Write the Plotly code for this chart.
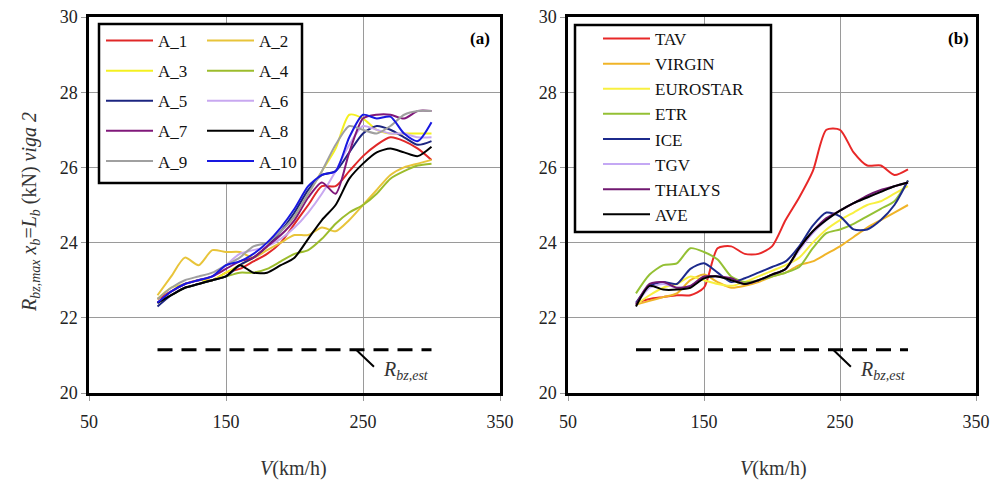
import plotly.graph_objects as go

# ---------------- data ----------------
V = [100, 110, 120, 130, 140, 150, 160, 170, 180, 190, 200,
     210, 220, 230, 240, 250, 260, 270, 280, 290, 300]

A_1 = [22.5, 22.7, 22.9, 23.0, 23.0, 23.2, 23.3, 23.5, 23.7, 24.0, 24.5, 25.0, 25.5, 25.5, 25.9, 26.3, 26.6, 26.8, 26.7, 26.5, 26.2]
A_2 = [22.6, 23.1, 23.6, 23.4, 23.8, 23.75, 23.75, 23.6, 23.8, 24.0, 24.2, 24.2, 24.4, 24.3, 24.6, 25.0, 25.4, 25.8, 26.0, 26.1, 26.2]
A_3 = [22.5, 22.8, 22.9, 23.0, 23.0, 23.2, 23.4, 23.6, 23.9, 24.3, 24.7, 25.3, 25.9, 26.5, 27.4, 27.3, 27.0, 26.9, 26.9, 26.9, 26.9]
A_4 = [22.4, 22.6, 22.8, 22.9, 23.0, 23.1, 23.2, 23.2, 23.3, 23.5, 23.7, 23.8, 24.1, 24.5, 24.8, 25.0, 25.3, 25.7, 25.9, 26.05, 26.1]
A_5 = [22.3, 22.6, 22.8, 22.9, 23.0, 23.1, 23.4, 23.6, 23.9, 24.3, 24.8, 25.4, 25.8, 25.9, 26.4, 26.9, 27.1, 27.0, 26.8, 26.6, 26.7]
A_6 = [22.4, 22.7, 22.9, 23.0, 23.1, 23.4, 23.7, 23.8, 23.9, 24.1, 24.4, 24.8, 25.3, 25.9, 26.6, 27.1, 27.0, 26.9, 26.9, 26.8, 26.8]
A_7 = [22.4, 22.7, 22.9, 23.0, 23.1, 23.3, 23.5, 23.6, 23.9, 24.2, 24.6, 25.2, 25.6, 25.3, 26.4, 27.3, 27.4, 27.4, 27.3, 27.5, 27.5]
A_8 = [22.4, 22.6, 22.8, 22.9, 23.0, 23.1, 23.4, 23.2, 23.2, 23.4, 23.6, 24.1, 24.6, 25.0, 25.7, 26.1, 26.4, 26.5, 26.4, 26.3, 26.55]
A_9 = [22.5, 22.8, 23.0, 23.1, 23.2, 23.4, 23.6, 23.9, 24.0, 24.3, 24.7, 25.3, 25.9, 26.6, 27.1, 27.0, 26.9, 27.1, 27.4, 27.5, 27.5]
A_10 = [22.4, 22.7, 22.9, 23.0, 23.1, 23.4, 23.5, 23.7, 24.0, 24.4, 24.9, 25.5, 25.8, 25.9, 26.8, 27.4, 27.3, 27.35, 26.9, 26.7, 27.2]

TAV = [22.4, 22.5, 22.55, 22.6, 22.6, 22.8, 23.85, 23.9, 23.7, 23.7, 23.9, 24.6, 25.2, 25.9, 27.0, 27.0, 26.4, 26.05, 26.05, 25.8, 25.95]
VIRGIN = [22.35, 22.45, 22.55, 22.65, 23.0, 23.15, 22.95, 22.8, 22.85, 22.95, 23.1, 23.2, 23.4, 23.5, 23.7, 23.9, 24.15, 24.4, 24.6, 24.8, 25.0]
EUROSTAR = [22.35, 22.6, 22.8, 22.9, 23.1, 23.0, 22.9, 22.85, 22.95, 23.1, 23.25, 23.4, 23.6, 24.0, 24.35, 24.6, 24.8, 25.0, 25.1, 25.3, 25.5]
ETR = [22.65, 23.15, 23.4, 23.45, 23.85, 23.75, 23.55, 23.1, 22.95, 23.0, 23.1, 23.2, 23.35, 23.85, 24.25, 24.35, 24.5, 24.7, 24.9, 25.1, 25.65]
ICE = [22.4, 22.85, 22.95, 22.9, 23.3, 23.45, 23.2, 22.95, 23.05, 23.2, 23.35, 23.5, 23.9, 24.45, 24.8, 24.7, 24.35, 24.35, 24.6, 25.0, 25.65]
TGV = [22.35, 22.8, 22.9, 22.8, 22.85, 23.05, 23.1, 23.0, 22.9, 23.0, 23.15, 23.3, 23.8, 24.25, 24.6, 24.85, 25.05, 25.2, 25.35, 25.5, 25.6]
THALYS = [22.35, 22.9, 22.95, 22.8, 22.85, 23.1, 23.1, 23.05, 22.9, 23.0, 23.15, 23.3, 23.85, 24.3, 24.65, 24.85, 25.05, 25.25, 25.4, 25.5, 25.6]
AVE = [22.3, 22.85, 22.75, 22.75, 22.8, 23.05, 23.1, 23.0, 22.9, 23.0, 23.15, 23.3, 23.85, 24.3, 24.6, 24.85, 25.05, 25.2, 25.35, 25.5, 25.6]

R_EST = 21.15
EST_V = [100, 300]
LEADER_V = [245, 258]
LEADER_Y = [21.15, 20.7]

X_TICKS = [50, 150, 250, 350]
Y_TICKS = [20, 22, 24, 26, 28, 30]

# ---------------- styles ----------------
FONT = '"Liberation Serif", "Times New Roman", Times, serif'
OFF = 8                     # page body margin
W, H = 998 - OFF, 486 - OFF


def px(x):
    return (x - OFF) / W


def py(y):
    return 1 - (y - OFF) / H


series_a = [
    ("A_1", A_1, "#e02828", "legend"), ("A_2", A_2, "#e8c43a", "legend2"),
    ("A_3", A_3, "#f4f020", "legend"), ("A_4", A_4, "#9cbc2c", "legend2"),
    ("A_5", A_5, "#1c2580", "legend"), ("A_6", A_6, "#c8a8f0", "legend2"),
    ("A_7", A_7, "#80187a", "legend"), ("A_8", A_8, "#000000", "legend2"),
    ("A_9", A_9, "#a0a0a0", "legend"), ("A_10", A_10, "#1818e0", "legend2"),
]
series_b = [
    ("TAV", TAV, "#e82828"), ("VIRGIN", VIRGIN, "#f0b428"),
    ("EUROSTAR", EUROSTAR, "#f8f040"), ("ETR", ETR, "#94c034"),
    ("ICE", ICE, "#1c2a8c"), ("TGV", TGV, "#c4a8f4"),
    ("THALYS", THALYS, "#701870"), ("AVE", AVE, "#000000"),
]

fig = go.Figure()

for name, ys, col, lg in series_a:
    fig.add_trace(go.Scatter(x=V, y=ys, name=name, mode="lines",
                             line=dict(color=col, width=2, shape="spline", smoothing=0.7),
                             legend=lg, legendgroup=name, xaxis="x", yaxis="y"))
for name, ys, col in series_b:
    fig.add_trace(go.Scatter(x=V, y=ys, name=name, mode="lines",
                             line=dict(color=col, width=2, shape="spline", smoothing=0.7),
                             legend="legend3", legendgroup=name, xaxis="x2", yaxis="y2"))

for xa, ya in (("x", "y"), ("x2", "y2")):
    fig.add_trace(go.Scatter(x=EST_V, y=[R_EST, R_EST], mode="lines", showlegend=False,
                             line=dict(color="black", width=3, dash="15px,9px"),
                             xaxis=xa, yaxis=ya, hoverinfo="skip"))
    fig.add_trace(go.Scatter(x=LEADER_V, y=LEADER_Y, mode="lines", showlegend=False,
                             line=dict(color="black", width=2),
                             xaxis=xa, yaxis=ya, hoverinfo="skip"))

ydom = [py(393), py(17)]
axis_common = dict(showline=True, linecolor="black", linewidth=2.5, mirror=True,
                   showgrid=True, gridcolor="#9a9a9a", gridwidth=1,
                   ticks="outside", ticklen=5, tickcolor="#9a9a9a",
                   ticklabeloverflow="allow",
                   tickfont=dict(family=FONT, size=18, color="#222"), zeroline=False)
leg_common = dict(xanchor="left", yanchor="top", bgcolor="rgba(0,0,0,0)", borderwidth=0,
                  font=dict(family=FONT, size=17, color="#111"), itemwidth=47)
fig.update_layout(
    width=W, height=H, margin=dict(l=0, r=0, t=0, b=0, autoexpand=False),
    paper_bgcolor="white", plot_bgcolor="white",
    font=dict(family=FONT, size=16, color="black"),
    xaxis=dict(domain=[px(89), px(500)], range=[50, 350], tickvals=X_TICKS,
               ticklabelstandoff=6, anchor="y", **axis_common),
    yaxis=dict(domain=ydom, range=[20, 30], tickvals=Y_TICKS, anchor="x", **axis_common),
    xaxis2=dict(domain=[px(568), px(976)], range=[50, 350], tickvals=X_TICKS,
                ticklabelstandoff=6, anchor="y2", **axis_common),
    yaxis2=dict(domain=ydom, range=[20, 30], tickvals=Y_TICKS, anchor="x2", **axis_common),
    legend=dict(x=px(101), y=py(23), tracegroupgap=5, **leg_common),
    legend2=dict(x=px(202), y=py(23), tracegroupgap=5, **leg_common),
    legend3=dict(x=px(598), y=py(21), tracegroupgap=0, **leg_common),
    shapes=[
        dict(type="rect", xref="paper", yref="paper",
             x0=px(99), x1=px(302), y0=py(183), y1=py(24),
             line=dict(color="black", width=2.5), fillcolor="white", layer="above"),
        dict(type="rect", xref="paper", yref="paper",
             x0=px(575), x1=px(771), y0=py(232), y1=py(25),
             line=dict(color="black", width=2.5), fillcolor="white", layer="above"),
    ],
)

ann = [
    dict(x=px(30), y=py(212), xref="paper", yref="paper", textangle=-90,
         xanchor="center", yanchor="middle",
         text="<i>R</i><sub><i>bz,max</i></sub> <i>x</i><sub><i>b</i></sub>=<i>L</i><sub><i>b</i></sub> (kN) <i>viga 2</i>",
         showarrow=False, font=dict(family=FONT, size=20, color="#333")),
    dict(x=px(293), y=py(468), xref="paper", yref="paper", xanchor="center", yanchor="middle",
         text="<i>V</i>(km/h)", showarrow=False, font=dict(family=FONT, size=20, color="#333")),
    dict(x=px(773), y=py(468), xref="paper", yref="paper", xanchor="center", yanchor="middle",
         text="<i>V</i>(km/h)", showarrow=False, font=dict(family=FONT, size=20, color="#333")),
    dict(x=px(480), y=py(38), xref="paper", yref="paper", xanchor="center", yanchor="middle",
         text="<b>(a)</b>", showarrow=False, font=dict(family=FONT, size=17)),
    dict(x=px(958), y=py(38), xref="paper", yref="paper", xanchor="center", yanchor="middle",
         text="<b>(b)</b>", showarrow=False, font=dict(family=FONT, size=17)),
]
for xa, ya in (("x", "y"), ("x2", "y2")):
    ann.append(dict(x=LEADER_V[1] + 5, y=LEADER_Y[1] - 0.1, xref=xa, yref=ya, xanchor="left",
                    yanchor="middle", text="<i>R</i><sub><i>bz,est</i></sub>",
                    showarrow=False, font=dict(family=FONT, size=20, color="#333")))
fig.update_layout(annotations=ann)

fig.write_html("out.html")
